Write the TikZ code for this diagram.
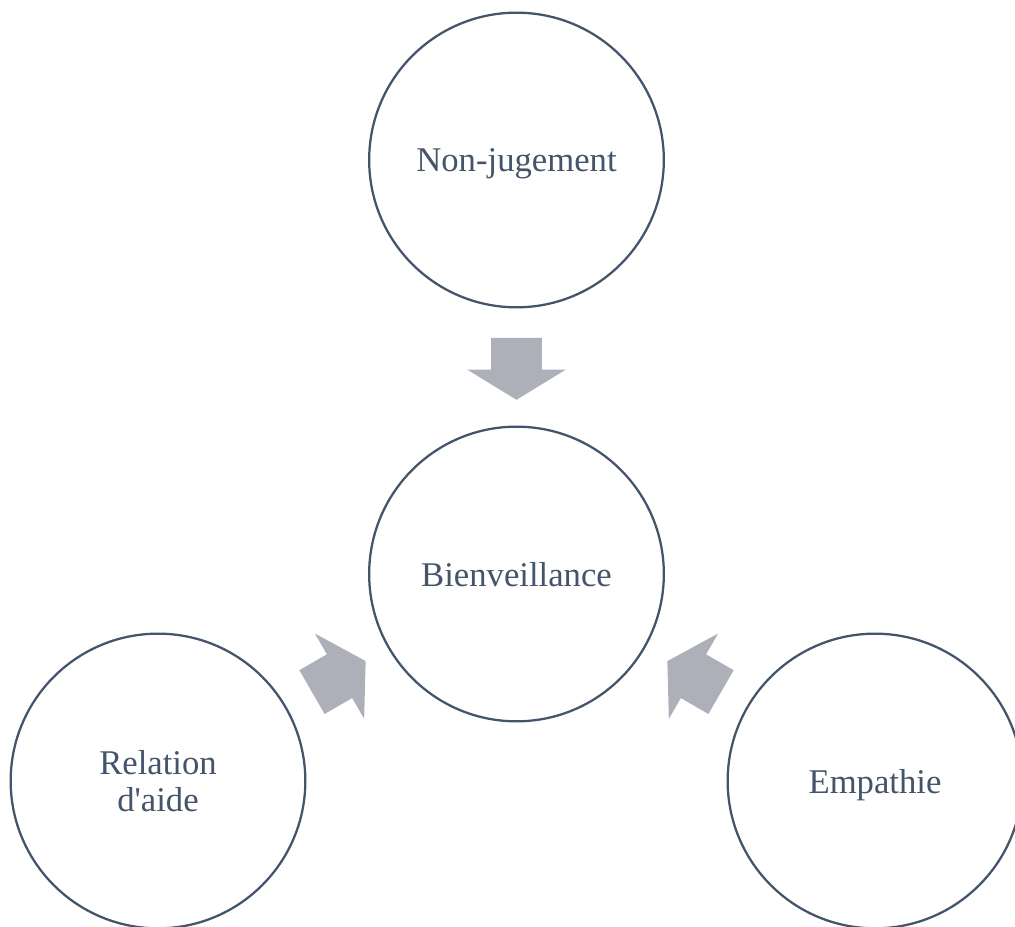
\documentclass[tikz,border=0pt]{standalone}
\usepackage{fontspec}
\setmainfont{Liberation Serif}
\usetikzlibrary{shapes.arrows}

\definecolor{contour}{HTML}{44546A}
\definecolor{gris}{HTML}{ADB0B8}

\begin{document}
\begin{tikzpicture}[x=0.75pt, y=-0.75pt,
	cercle/.style={circle, draw=contour, line width=1.7pt, minimum size=221pt,
		inner sep=0pt, text=contour, align=center, text depth=0pt,
		font=\fontsize{26}{28}\selectfont},
	fleche/.style={single arrow, fill=gris, draw=none, inner xsep=0pt,
		inner ysep=18.75pt, minimum height=46.5pt,
		single arrow head extend=18pt, single arrow tip angle=117,
		anchor=tip, sloped, allow upside down}]
	% поле рисунка
	\useasboundingbox (0,0) rectangle (1015,927);
	\clip (0,0) rectangle (1015,927);

	% круги
	\node[cercle] (centre) at (516.5,574) {Bienveillance};
	\node[cercle] (haut)   at (516.5,160) {Non-jugement};
	\node[cercle] (gauche) at (158,781)   {Relation\\d\textquotesingle aide};
	\node[cercle] (droite) at (875,781)   {Empathie};

	% стрелки к центру
	\foreach \src in {haut, gauche, droite}
		\path (\src.center) -- (centre.center) node[fleche, pos=0.58] {};
\end{tikzpicture}
\end{document}
